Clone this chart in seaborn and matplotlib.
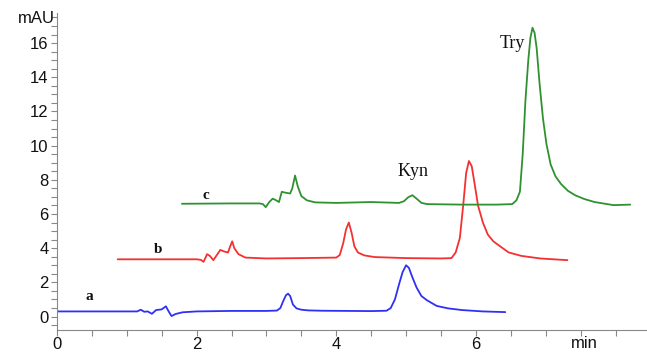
import numpy as np
import pandas as pd
import matplotlib.pyplot as plt
import seaborn as sns
from matplotlib.ticker import MultipleLocator

# trace a (blue): retention time (min), absorbance (mAU)
t_a = [0.0, 1.15, 1.20, 1.25, 1.30, 1.36, 1.42, 1.50, 1.56, 1.60, 1.64, 1.70, 1.80, 2.0, 2.5,
       3.0, 3.15, 3.20, 3.24, 3.28, 3.31, 3.34, 3.38, 3.43, 3.50, 3.60, 3.8, 4.5, 4.72, 4.78,
       4.84, 4.90, 4.95, 5.00, 5.04, 5.09, 5.15, 5.22, 5.30, 5.44, 5.60, 5.80, 6.10, 6.42]
y_a = [0.30, 0.30, 0.40, 0.28, 0.30, 0.16, 0.38, 0.42, 0.60, 0.30, 0.03, 0.15, 0.25, 0.30, 0.33,
       0.33, 0.35, 0.50, 0.90, 1.25, 1.34, 1.20, 0.70, 0.48, 0.40, 0.36, 0.34, 0.32, 0.34, 0.50,
       1.00, 1.90, 2.60, 3.00, 2.85, 2.30, 1.70, 1.20, 0.95, 0.62, 0.48, 0.38, 0.30, 0.26]

# trace b (red)
t_b = [0.87, 1.5, 2.0, 2.06, 2.10, 2.15, 2.19, 2.24, 2.29, 2.34, 2.40, 2.45, 2.48, 2.51, 2.54,
       2.60, 2.70, 3.0, 3.5, 4.0, 4.05, 4.10, 4.14, 4.18, 4.22, 4.26, 4.31, 4.40, 4.55, 5.0, 5.5,
       5.65, 5.71, 5.77, 5.82, 5.86, 5.90, 5.94, 5.98, 6.03, 6.10, 6.17, 6.25, 6.35, 6.47, 6.65,
       6.92, 7.31]
y_b = [3.35, 3.35, 3.35, 3.32, 3.20, 3.65, 3.55, 3.30, 3.60, 3.90, 3.80, 3.75, 4.10, 4.40, 4.00,
       3.65, 3.45, 3.40, 3.42, 3.45, 3.60, 4.30, 5.10, 5.50, 4.90, 4.10, 3.75, 3.58, 3.48, 3.42, 3.40,
       3.42, 3.75, 4.60, 6.60, 8.40, 9.10, 8.80, 7.80, 6.50, 5.50, 4.80, 4.40, 4.10, 3.75, 3.55,
       3.40, 3.30]

# trace c (green)
t_c = [1.79, 2.5, 2.90, 2.95, 2.99, 3.04, 3.09, 3.14, 3.18, 3.22, 3.27, 3.34, 3.37, 3.41, 3.45,
       3.50, 3.58, 3.70, 4.0, 4.5, 4.9, 4.97, 5.03, 5.09, 5.15, 5.22, 5.30, 5.8, 6.30, 6.52, 6.58,
       6.63, 6.67, 6.71, 6.75, 6.78, 6.81, 6.84, 6.87, 6.91, 6.96, 7.01, 7.07, 7.14, 7.22, 7.32,
       7.42, 7.55, 7.70, 7.97, 8.21]
y_c = [6.60, 6.62, 6.62, 6.58, 6.40, 6.70, 6.90, 6.80, 6.70, 7.30, 7.25, 7.20, 7.50, 8.25, 7.60,
       7.05, 6.80, 6.68, 6.65, 6.70, 6.65, 6.75, 6.98, 7.10, 6.90, 6.65, 6.58, 6.55, 6.55, 6.58, 6.80,
       7.30, 9.50, 12.7, 15.0, 16.3, 16.9, 16.6, 15.7, 13.7, 11.6, 10.1, 8.90, 8.20, 7.75, 7.35,
       7.10, 6.88, 6.70, 6.52, 6.55]

trace_names = ["a", "b", "c"]
trace_colors = ["#3030f5", "#f53030", "#2f922f"]
label_pos = {"a": (0.47, 1.2), "b": (1.45, 3.9), "c": (2.13, 7.1)}
peak_names = ["Kyn", "Try"]
peak_pos = [(5.10, 8.5), (6.52, 15.95)]

df = pd.concat([
    pd.DataFrame({"t": t_a, "y": y_a, "trace": "a"}),
    pd.DataFrame({"t": t_b, "y": y_b, "trace": "b"}),
    pd.DataFrame({"t": t_c, "y": y_c, "trace": "c"}),
])

sns.set_style("ticks")
plt.rcParams["font.family"] = ["Liberation Sans", "DejaVu Sans"]

fig = plt.figure(figsize=(6.47, 3.57), dpi=100)
ax = fig.add_axes([0.088, 0.075, 0.912, 0.888])

sns.lineplot(data=df, x="t", y="y", hue="trace", palette=trace_colors,
             estimator=None, sort=False, linewidth=1.3, legend=False, ax=ax)

ax.set_xlim(0, 8.45)
ax.set_ylim(-0.8, 17.75)
ax.set_xlabel("")
ax.set_ylabel("")

ax.xaxis.set_major_locator(plt.FixedLocator([0, 2, 4, 6]))
ax.xaxis.set_minor_locator(MultipleLocator(0.5))
ax.yaxis.set_major_locator(plt.FixedLocator(list(range(0, 17, 2))))
ax.yaxis.set_minor_locator(MultipleLocator(0.5))
ax.tick_params(which="both", direction="out", color="#888888", width=0.8,
               length=4, labelsize=12, labelcolor="#111111")
ax.tick_params(axis="x", pad=1)
ax.tick_params(axis="y", pad=2)

for side in ["top", "right"]:
    ax.spines[side].set_visible(False)
for side in ["left", "bottom"]:
    ax.spines[side].set_color("#888888")
    ax.spines[side].set_linewidth(0.8)

serif = ["Liberation Serif", "DejaVu Serif"]
for name in trace_names:
    x, y = label_pos[name]
    ax.text(x, y, name, family=serif, fontsize=11, fontweight="bold",
            ha="center", va="center", color="#111111", clip_on=False)
for name, (x, y) in zip(peak_names, peak_pos):
    ax.text(x, y, name, family=serif, fontsize=13,
            ha="center", va="center", color="#111111", clip_on=False)

ax.text(-0.03, 17.45, "mAU", fontsize=12, ha="right", va="center",
        color="#111111", clip_on=False)
ax.text(7.55, -1.15, "min", fontsize=12, ha="center", va="top",
        color="#111111", clip_on=False)

fig.savefig("out.png", dpi=100)
